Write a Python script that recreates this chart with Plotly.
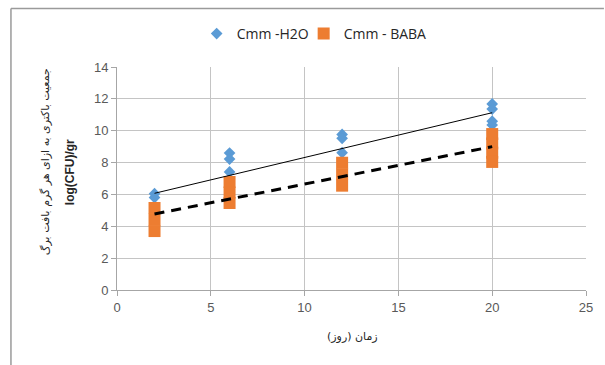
import plotly.graph_objects as go

# --- data ---
h2o_x = [2, 2, 6, 6, 6, 12, 12, 12, 20, 20, 20, 20]
h2o_y = [6.05, 5.8, 8.6, 8.22, 7.41, 9.77, 9.52, 8.62, 11.68, 11.36, 10.6, 10.36]

baba_x = [2, 2, 2, 6, 6, 6, 12, 12, 12, 20, 20, 20, 20]
baba_y = [5.15, 4.42, 3.7, 6.78, 6.12, 5.46, 7.99, 7.27, 6.55, 9.79, 9.2, 8.62, 8.04]

trend_x = [2, 20]
trend_h2o = [6.07, 11.13]
trend_baba = [4.77, 9.0]

x_ticks = [0, 5, 10, 15, 20, 25]
y_ticks = [0, 2, 4, 6, 8, 10, 12, 14]

name_h2o = "Cmm -H2O"
name_baba = "Cmm - BABA"
y_title_fa = "جمعیت باکتری به ازای هر گرم بافت برگ"
y_title_unit = "log(CFU)/gr"
x_title_fa = "زمان (روز)"

BLUE = "#5B9BD5"
ORANGE = "#ED7D31"

fig = go.Figure()
fig.add_trace(go.Scatter(
    x=h2o_x, y=h2o_y, mode="markers", name=name_h2o,
    marker=dict(symbol="diamond", size=9, color=BLUE, line=dict(width=0)),
))
fig.add_trace(go.Scatter(
    x=baba_x, y=baba_y, mode="markers", name=name_baba,
    marker=dict(symbol="square", size=12, color=ORANGE, line=dict(width=0)),
))
fig.add_trace(go.Scatter(
    x=trend_x, y=trend_h2o, mode="lines", showlegend=False, hoverinfo="skip",
    line=dict(color="#000000", width=1),
))
fig.add_trace(go.Scatter(
    x=trend_x, y=trend_baba, mode="lines", showlegend=False, hoverinfo="skip",
    line=dict(color="#000000", width=3, dash="10px,7px"),
))
# empty spacer entry so the compact legend does not clip the last label
fig.add_trace(go.Scatter(
    x=[None], y=[None], mode="markers", name=" ", hoverinfo="skip",
    marker=dict(color="rgba(0,0,0,0)", size=1),
))

L, R, T, B = 117, 17, 67, 75
W, H = 605, 365
pw, ph = W - L - R, H - T - B

def px_x(p):
    return (p - L) / pw

def px_y(p):
    return (H - B - p) / ph

grid = "#c4c4c4"
axis_line = "#a6a6a6"
tick_font = dict(family="Liberation Sans, Arial, sans-serif", size=13, color="#595959")

fig.update_layout(
    width=W, height=H,
    margin=dict(l=L, r=R, t=T, b=B, pad=0),
    paper_bgcolor="white", plot_bgcolor="white",
    showlegend=True,
    legend=dict(
        orientation="h", x=px_x(197), y=px_y(18), xanchor="left", yanchor="top",
        font=dict(family="Open Sans, sans-serif", size=14, color="#262626"),
        itemwidth=30, bgcolor="rgba(0,0,0,0)", traceorder="normal",
        entrywidth=62, entrywidthmode="pixels",
    ),
    xaxis=dict(
        range=[0, 25], tickvals=x_ticks, ticktext=[str(v) for v in x_ticks],
        showgrid=True, gridcolor=grid, gridwidth=1,
        showline=True, linecolor=axis_line, linewidth=1,
        ticks="outside", ticklen=5, tickcolor=axis_line,
        tickfont=tick_font, zeroline=False,
    ),
    yaxis=dict(
        range=[0, 14], tickvals=y_ticks, ticktext=[str(v) for v in y_ticks],
        showgrid=True, gridcolor=grid, gridwidth=1,
        showline=True, linecolor=axis_line, linewidth=1,
        ticks="outside", ticklen=5, tickcolor=axis_line,
        tickfont=tick_font, zeroline=False,
    ),
    annotations=[
        dict(text=y_title_fa, xref="paper", yref="paper", x=px_x(45), y=px_y(162),
             xanchor="center", yanchor="middle", textangle=-90, showarrow=False,
             font=dict(family="DejaVu Sans, sans-serif", size=11, color="#262626")),
        dict(text="<b>" + y_title_unit + "</b>", xref="paper", yref="paper", x=px_x(70), y=px_y(172),
             xanchor="center", yanchor="middle", textangle=-90, showarrow=False,
             font=dict(family="Liberation Sans, Arial, sans-serif", size=12, color="#262626")),
        dict(text=x_title_fa, xref="paper", yref="paper", x=px_x(354), y=px_y(336),
             xanchor="center", yanchor="middle", showarrow=False,
             font=dict(family="DejaVu Sans, sans-serif", size=11, color="#262626")),
    ],
    shapes=[
        dict(type="line", xref="paper", yref="paper", x0=px_x(10.5), x1=px_x(10.5),
             y0=px_y(8.5), y1=px_y(366), line=dict(color="#9a9a9a", width=1.5)),
        dict(type="line", xref="paper", yref="paper", x0=px_x(10.5), x1=px_x(606),
             y0=px_y(8.5), y1=px_y(8.5), line=dict(color="#9a9a9a", width=1.5)),
    ],
)

fig.write_html(
    "out.html",
    config={"displayModeBar": False},
    post_script="document.body.style.margin='0';document.body.style.overflow='hidden';",
)
